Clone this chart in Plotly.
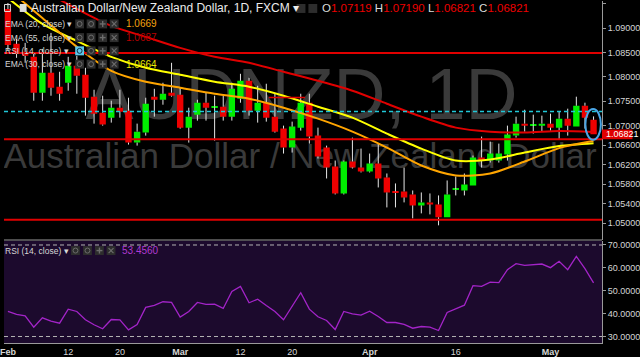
import numpy as np
import pandas as pd
import plotly.graph_objects as go

FONT = "Liberation Sans, Arial, sans-serif"

# ---------------- data ----------------
opens = [1.09395, 1.08679, 1.08515, 1.08413, 1.07676, 1.08085, 1.07799, 1.07880, 1.08228, 1.08044,
         1.07594, 1.07266, 1.07164, 1.07368, 1.07307, 1.06652, 1.06857, 1.07594, 1.07532, 1.07676,
         1.07635, 1.06959, 1.07225, 1.07471, 1.07379, 1.07389, 1.07184, 1.07553, 1.07921, 1.07307,
         1.07471, 1.07184, 1.06939, 1.06549, 1.06959, 1.07471, 1.06795, 1.06549, 1.06161, 1.05608,
         1.06263, 1.06140, 1.06058, 1.06222, 1.05936, 1.05649, 1.05649, 1.05587, 1.05362, 1.05424,
         1.05383, 1.05117, 1.05680, 1.05669, 1.05772, 1.06345, 1.06283, 1.06283, 1.06406, 1.06795,
         1.07041, 1.07010, 1.07000, 1.07041, 1.06959, 1.07143, 1.06980, 1.07409, 1.07119]
highs = [1.09518, 1.08781, 1.08699, 1.08474, 1.08576, 1.08904, 1.08106, 1.08413, 1.08433, 1.08187,
         1.07737, 1.07614, 1.07512, 1.07737, 1.07573, 1.07041, 1.07573, 1.07757, 1.07880, 1.08290,
         1.07778, 1.07368, 1.07532, 1.07676, 1.07614, 1.07614, 1.07880, 1.08064, 1.07983, 1.07819,
         1.07860, 1.07655, 1.07000, 1.07082, 1.07655, 1.07655, 1.06959, 1.06590, 1.06283, 1.06283,
         1.06754, 1.06529, 1.06427, 1.06631, 1.06018, 1.05813, 1.06140, 1.05669, 1.05628, 1.05608,
         1.05567, 1.05874, 1.05956, 1.06018, 1.06386, 1.06775, 1.06672, 1.06631, 1.07000, 1.07184,
         1.07327, 1.07225, 1.07205, 1.07246, 1.07287, 1.07348, 1.07594, 1.07471, 1.07190]
lows = [1.08535, 1.08392, 1.08290, 1.07512, 1.07512, 1.07614, 1.07512, 1.07717, 1.07655, 1.07205,
        1.07041, 1.07000, 1.07062, 1.07164, 1.06611, 1.06590, 1.06795, 1.07184, 1.07430, 1.07594,
        1.06939, 1.06652, 1.07103, 1.07103, 1.06693, 1.07103, 1.07103, 1.07471, 1.07205, 1.07062,
        1.07082, 1.06857, 1.06427, 1.06447, 1.06898, 1.06631, 1.06324, 1.05915, 1.05587, 1.05587,
        1.06120, 1.06038, 1.06038, 1.05731, 1.05321, 1.05321, 1.05424, 1.05096, 1.05199, 1.05178,
        1.04953, 1.05117, 1.05567, 1.05567, 1.05772, 1.06140, 1.06242, 1.06242, 1.06283, 1.06754,
        1.06877, 1.06836, 1.06877, 1.06898, 1.06713, 1.06795, 1.06980, 1.06939, 1.06821]
closes = [1.08658, 1.08474, 1.08433, 1.07676, 1.08085, 1.07778, 1.07655, 1.08228, 1.08023, 1.07573,
          1.07246, 1.07021, 1.07368, 1.07287, 1.06652, 1.06877, 1.07450, 1.07532, 1.07655, 1.07614,
          1.06959, 1.07184, 1.07471, 1.07368, 1.07389, 1.07184, 1.07757, 1.07921, 1.07307, 1.07471,
          1.07164, 1.06877, 1.06549, 1.06980, 1.07471, 1.06775, 1.06365, 1.06140, 1.05608, 1.06263,
          1.06140, 1.06058, 1.06222, 1.05915, 1.05628, 1.05618, 1.05526, 1.05362, 1.05424, 1.05383,
          1.05117, 1.05587, 1.05690, 1.05792, 1.06345, 1.06283, 1.06427, 1.06427, 1.06816, 1.07041,
          1.07000, 1.07021, 1.07041, 1.06959, 1.07143, 1.07000, 1.07409, 1.07164, 1.06821]

ema_idx = list(range(0, 69, 4))
ema20 = [1.09805, 1.09210, 1.08617, 1.08126, 1.07901, 1.07778, 1.07655, 1.07553, 1.07368, 1.07143,
         1.06877, 1.06549, 1.06181, 1.05977, 1.06018, 1.06263, 1.06539, 1.0669]
ema30 = [1.09620, 1.09088, 1.08740, 1.08413, 1.08187, 1.08044, 1.07901, 1.07799, 1.07614, 1.07389,
         1.07164, 1.06836, 1.06529, 1.06283, 1.06304, 1.06447, 1.06580, 1.0664]
ema55 = [1.10173, 1.09784, 1.09395, 1.09047, 1.08822, 1.08597, 1.08413, 1.08290, 1.08106, 1.07921,
         1.07717, 1.07450, 1.07184, 1.06959, 1.06877, 1.06857, 1.06888, 1.0687]

rsi = [40.95, 39.64, 39.07, 34.07, 38.19, 36.70, 35.83, 41.96, 40.95, 37.32,
       35.13, 33.37, 37.45, 37.32, 32.94, 35.26, 42.71, 43.58, 45.20, 44.90,
       38.46, 40.95, 44.90, 44.02, 44.15, 42.27, 49.71, 51.91, 44.76, 46.34,
       43.58, 40.95, 37.32, 43.14, 49.15, 41.96, 38.63, 37.01, 33.07, 40.95,
       39.94, 39.33, 41.08, 38.76, 36.13, 36.13, 35.26, 33.64, 34.38, 34.07,
       32.63, 40.51, 42.14, 43.71, 52.21, 51.91, 53.79, 53.53, 59.22, 61.85,
       61.11, 61.41, 61.68, 60.10, 62.86, 59.22, 65.05, 59.66, 53.456]

red_levels = [1.0849, 1.0672, 1.0507]
cyan_level = 1.0729
short_level = [1.0758, "2018-03-15", "2018-03-21"]

tick_dates = ["2018-02-01", "2018-02-12", "2018-02-20", "2018-03-01", "2018-03-12",
              "2018-03-20", "2018-04-02", "2018-04-16", "2018-05-01"]
tick_text = ["<b>Feb</b>", "12", "20", "<b>Mar</b>", "12", "20", "<b>Apr</b>", "16", "<b>May</b>"]
price_ticks = [1.095, 1.090, 1.085, 1.080, 1.075, 1.070, 1.066, 1.062, 1.058, 1.054, 1.050]
rsi_ticks = [70, 60, 50, 40, 30]

# ---------------- styling / layout constants ----------------
W, H = 640, 357
PLOT_W = 609          # plot area width (px)
PLOT_H = 343          # plot area height (px), top margin 0
MAIN_BOTTOM = 239.5   # px
RSI_TOP = 240.5       # px
GREEN = "#00ee00"
RED = "#ee0000"
WICK = "#e6e6e6"
AXIS = "#9a9a9a"
TXT = "#d6d6d6"
PURPLE_BG = "#1c0a2d"
RSI_COL = "#a324c8"

p_top, p_bot = 1.095589, 1.046561
r_top, r_bot = 71.83, 27.17
n = len(closes)
dates = pd.bdate_range("2018-02-01", periods=n)
xi = np.arange(n)
x_range = [-0.456, 68.98]

o = np.array(opens); h = np.array(highs); l = np.array(lows); c = np.array(closes)
up = c >= o
b_lo = np.minimum(o, c)
b_hi = np.maximum(o, c)
b_h = np.maximum(b_hi - b_lo, 0.00026)
cols = np.where(up, GREEN, RED)

wx, wy = [], []
for i in range(n):
    wx += [i, i, None, i, i, None]
    wy += [h[i], b_hi[i], None, b_lo[i], l[i], None]


def px_to_price(py_):
    return p_top - py_ / MAIN_BOTTOM * (p_top - p_bot)


def px_to_idx(px_):
    return x_range[0] + px_ / PLOT_W * (x_range[1] - x_range[0])


fig = go.Figure()

# watermark on base subplot (drawn beneath the overlaid price subplot)
fig.add_trace(go.Scatter(
    x=[px_to_idx(303), px_to_idx(301.5)], y=[px_to_price(100), px_to_price(159)],
    text=["AUDNZD, 1D", "Australian Dollar / New Zealand Dollar"],
    mode="text", textposition="middle center",
    textfont=dict(size=[72, 35], color="#3a3a3a", family=FONT),
    xaxis="x", yaxis="y", hoverinfo="skip", cliponaxis=True))

# wicks
fig.add_trace(go.Scatter(x=wx, y=wy, mode="lines", line=dict(color=WICK, width=1),
                         xaxis="x", yaxis="y3", hoverinfo="skip"))
# bodies
fig.add_trace(go.Bar(x=xi, y=b_h, base=b_lo, width=0.74,
                     marker=dict(color=list(cols), line=dict(width=0)),
                     xaxis="x", yaxis="y3", hoverinfo="skip"))
# EMAs
for arr, col in [(ema55, "#e00000"), (ema30, "#ffff00"), (ema20, "#ffa500")]:
    fig.add_trace(go.Scatter(x=ema_idx, y=arr, mode="lines",
                             line=dict(color=col, width=2, shape="spline", smoothing=0.8),
                             xaxis="x", yaxis="y3", hoverinfo="skip"))
# RSI
fig.add_trace(go.Scatter(x=xi, y=rsi, mode="lines", line=dict(color=RSI_COL, width=1.3),
                         xaxis="x2", yaxis="y2", hoverinfo="skip"))


def py(p):
    return 1 - p / PLOT_H


def pxx(p):
    return p / PLOT_W


shapes = []
# RSI background
shapes.append(dict(type="rect", xref="paper", yref="y2 domain", x0=0, x1=1, y0=0, y1=1,
                   fillcolor=PURPLE_BG, line=dict(width=0), layer="below"))
# separator
shapes.append(dict(type="line", xref="paper", yref="paper", x0=0, x1=1,
                   y0=py(MAIN_BOTTOM + 0.2), y1=py(MAIN_BOTTOM + 0.2),
                   line=dict(color=AXIS, width=1)))
# RSI 70/30 bands
for v in (70, 30):
    shapes.append(dict(type="line", xref="paper", yref="y2", x0=0, x1=1, y0=v, y1=v,
                       line=dict(color="#b4b4b4", width=1, dash="4px,3px")))
# horizontal levels
for v in red_levels:
    shapes.append(dict(type="line", xref="paper", yref="y3", x0=0, x1=1, y0=v, y1=v,
                       line=dict(color="#e00000", width=2)))
shapes.append(dict(type="line", xref="paper", yref="y3", x0=0, x1=1, y0=cyan_level, y1=cyan_level,
                   line=dict(color="#20c8d8", width=1.3, dash="4px,3px")))
sx0 = dates.get_loc(pd.Timestamp(short_level[1]))
sx1 = dates.get_loc(pd.Timestamp(short_level[2]))
shapes.append(dict(type="line", xref="x", yref="y3", x0=sx0 + 0.3, x1=sx1 + 0.5,
                   y0=short_level[0], y1=short_level[0], line=dict(color="#e00000", width=1.5)))
# ellipse around last candle
shapes.append(dict(type="circle", xref="x", yref="y3", x0=n - 1 - 0.95, x1=n - 1 + 0.85,
                   y0=l[-1] - 0.0011, y1=h[-1] + 0.0015,
                   line=dict(color="#4aa6e6", width=2)))
# last price label box
shapes.append(dict(type="rect", xref="paper", yref="y3", x0=1.0, x1=W / PLOT_W,
                   y0=c[-1] - 0.00102, y1=c[-1] + 0.00102,
                   fillcolor="#e00000", line=dict(width=0)))

annotations = []


def ann(text, x, y, size, color, anchor="left"):
    annotations.append(dict(text=text, xref="paper", yref="paper", x=pxx(x), y=py(y),
                            xanchor=anchor, yanchor="middle", showarrow=False,
                            font=dict(size=size, color=color, family=FONT)))


def pline(x0, y0, x1, y1, col, w=1):
    shapes.append(dict(type="line", xref="paper", yref="paper", x0=pxx(x0), x1=pxx(x1),
                       y0=py(y0), y1=py(y1), line=dict(color=col, width=w)))


def icons(row_y, xs, highlight=False):
    for k, x0 in enumerate(xs):
        hl = highlight and k == 0
        fill = "#5cc6ea" if hl else "#2d2d2d"
        g = "#143040" if hl else "#6c6c6c"
        shapes.append(dict(type="rect", xref="paper", yref="paper",
                           x0=pxx(x0), x1=pxx(x0 + 9), y0=py(row_y + 4.5), y1=py(row_y - 4.5),
                           fillcolor=fill, line=dict(width=0)))
        cx = x0 + 4.5
        if k in (0, 1):
            shapes.append(dict(type="circle", xref="paper", yref="paper",
                               x0=pxx(cx - 2.5), x1=pxx(cx + 2.5), y0=py(row_y + 2.5), y1=py(row_y - 2.5),
                               line=dict(color=g, width=1)))
        elif k == 2:
            pline(cx - 3, row_y, cx + 3, row_y, g, 1.4)
            pline(cx, row_y - 3, cx, row_y + 3, g, 1.4)
        else:
            pline(cx - 2.5, row_y - 2.5, cx + 2.5, row_y + 2.5, g, 1.2)
            pline(cx - 2.5, row_y + 2.5, cx + 2.5, row_y - 2.5, g, 1.2)


# title row
shapes.append(dict(type="rect", xref="paper", yref="paper", x0=pxx(0.5), x1=pxx(6.5),
                   y0=py(10.5), y1=py(3.5), line=dict(color="#dddddd", width=1)))
shapes.append(dict(type="rect", xref="paper", yref="paper", x0=pxx(16), x1=pxx(23),
                   y0=py(11), y1=py(3), fillcolor="#dddddd", line=dict(width=0)))
ann("Australian Dollar/New Zealand Dollar, 1D, FXCM ▾", 25, 7.5, 12, "#ececec")
for x0 in (298, 310):
    shapes.append(dict(type="rect", xref="paper", yref="paper", x0=pxx(x0), x1=pxx(x0 + 9),
                       y0=py(12), y1=py(3), fillcolor="#2d2d2d", line=dict(width=0)))
vc = RED if c[-1] < o[-1] else GREEN
ohlc = (f"O<span style='color:{vc}'>{o[-1]:.5f}</span> H<span style='color:{vc}'>{h[-1]:.5f}</span>"
        f" L<span style='color:{vc}'>{l[-1]:.5f}</span> C<span style='color:{vc}'>{c[-1]:.5f}</span>")
ann(ohlc, 322, 7.5, 11.5, "#dcdcdc")

rows = [("EMA (20, close) ▾", ema20[-1], "#f5a30f", 23.0, False),
        ("EMA (55, close) ▾", ema55[-1], "#b80000", 36.7, False),
        ("RSI (14, close) ▾", None, None, 50.0, True),
        ("EMA (30, close) ▾", ema30[-1], "#e8e800", 63.3, False)]
for label, val, vcol, ry, hl in rows:
    ann(label, -1, ry, 8.5, TXT)
    icons(ry, [72.5, 84.2, 96, 107.7], highlight=hl)
    if val is not None:
        ann(f"{val:.4f}", 122, ry, 10, vcol)

ann("RSI (14, close) ▾", -1, 250.3, 8.5, TXT)
icons(250.3, [68.3, 80.5, 92.7, 104.5])
ann(f"{rsi[-1]:.4f}", 118, 250.3, 10, "#b03ad0")

# last price label text
annotations.append(dict(text=f"{c[-1]:.5f}", xref="paper", yref="y3", x=pxx(611), y=c[-1],
                        xanchor="left", yanchor="middle", showarrow=False,
                        font=dict(size=9, color="#ffffff", family=FONT)))

tickvals_x = [dates.get_loc(pd.Timestamp(d)) for d in tick_dates]
main_dom = [(PLOT_H - MAIN_BOTTOM) / PLOT_H, 1]
rsi_dom = [0, (PLOT_H - RSI_TOP) / PLOT_H]

fig.update_layout(
    width=W, height=H,
    margin=dict(l=0, r=W - PLOT_W, t=0, b=H - PLOT_H),
    paper_bgcolor="#000000", plot_bgcolor="#000000",
    showlegend=False, hovermode=False, barmode="overlay",
    font=dict(family=FONT, color=TXT, size=9),
    xaxis=dict(domain=[0, 1], anchor="y", range=x_range, showticklabels=False,
               showgrid=False, zeroline=False, showline=False, ticks=""),
    xaxis2=dict(domain=[0, 1], anchor="y2", matches="x", range=x_range,
                tickvals=tickvals_x, ticktext=tick_text, ticks="",
                ticklabeloverflow="allow",
                tickfont=dict(size=9, color=TXT, family=FONT),
                showgrid=False, zeroline=False, showline=True, linecolor=AXIS, linewidth=1),
    yaxis=dict(domain=main_dom, anchor="x", range=[p_bot, p_top], side="right",
               tickvals=price_ticks, ticktext=[f"{v:.5f}" for v in price_ticks],
               tickfont=dict(size=9, color=TXT, family=FONT),
               ticks="outside", ticklen=3, tickcolor=AXIS,
               showgrid=False, zeroline=False, showline=True, linecolor=AXIS, linewidth=1),
    yaxis3=dict(overlaying="y", anchor="x", range=[p_bot, p_top], visible=False,
                showgrid=False, zeroline=False),
    yaxis2=dict(domain=rsi_dom, anchor="x2", range=[r_bot, r_top], side="right",
                tickvals=rsi_ticks, ticktext=[f"{v:.4f}" for v in rsi_ticks],
                tickfont=dict(size=9, color=TXT, family=FONT),
                ticks="outside", ticklen=3, tickcolor=AXIS,
                showgrid=False, zeroline=False, showline=True, linecolor=AXIS, linewidth=1),
    shapes=shapes,
    annotations=annotations,
)

fig.write_html("out.html")
